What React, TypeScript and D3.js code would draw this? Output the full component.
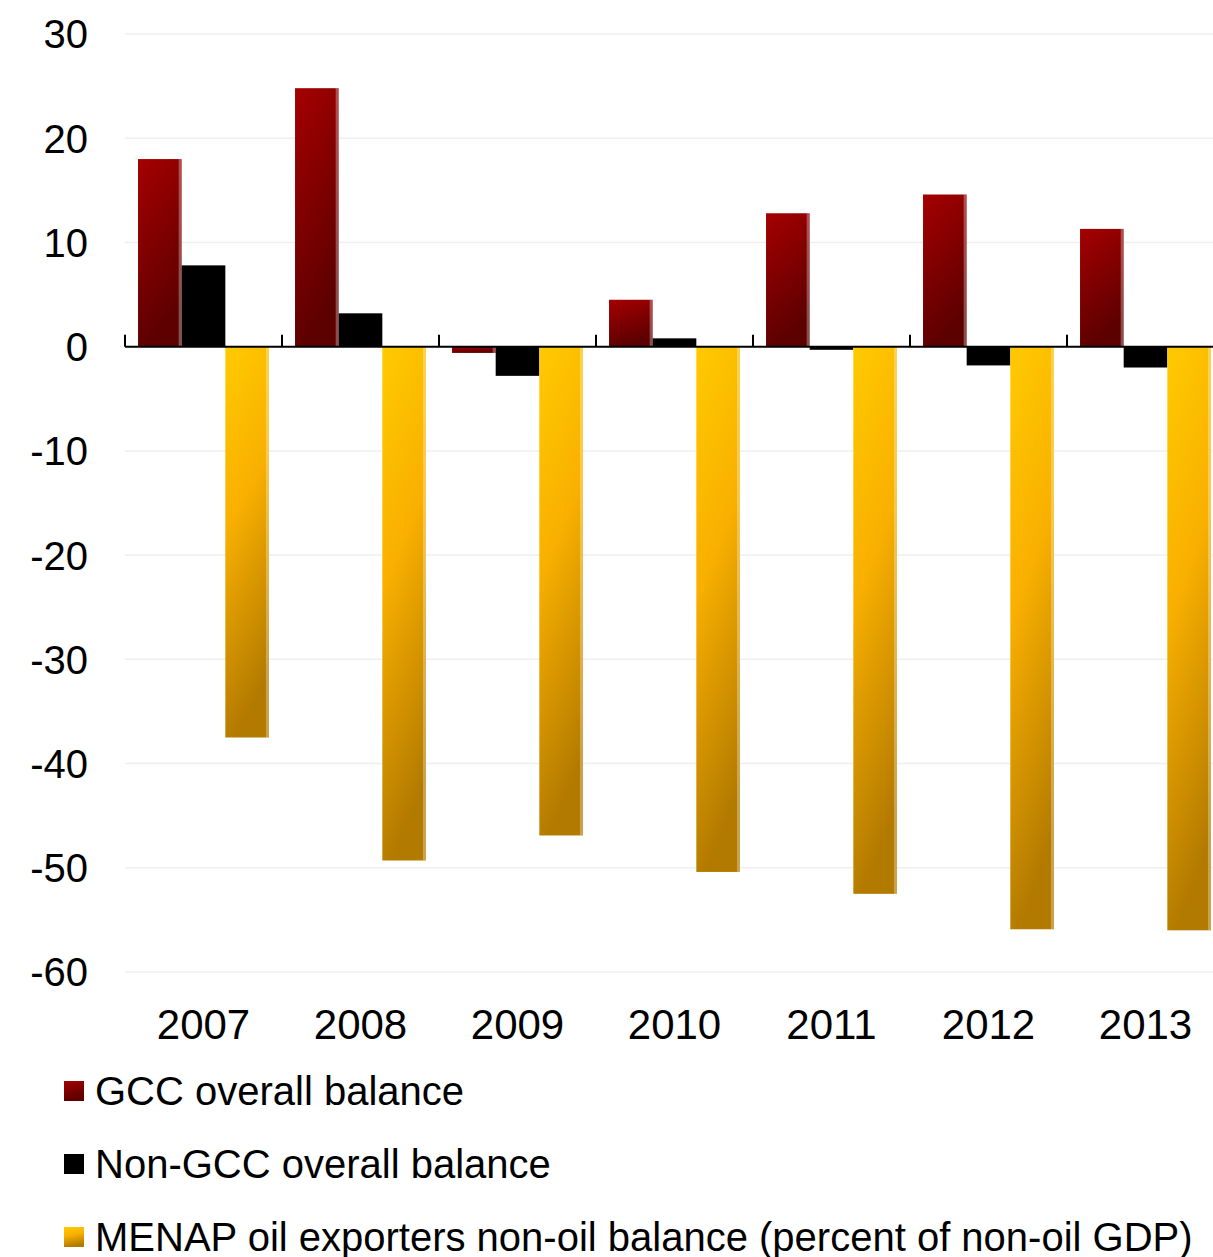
import * as d3 from "d3";
import React, { useEffect, useRef } from "react";

// Years on the x axis
const years = ["2007", "2008", "2009", "2010", "2011", "2012", "2013"];

// Series values (percent)
const gccBalance = [18.0, 24.8, -0.6, 4.5, 12.8, 14.6, 11.3];
const nonGccBalance = [7.8, 3.2, -2.8, 0.8, -0.3, -1.8, -2.0];
const menapNonOil = [-37.5, -49.3, -46.9, -50.4, -52.5, -55.9, -56.0];

const seriesNames = [
  "GCC overall balance",
  "Non-GCC overall balance",
  "MENAP oil exporters non-oil balance (percent of non-oil GDP)",
];

const yTicks = [30, 20, 10, 0, -10, -20, -30, -40, -50, -60];

const App: React.FC = () => {
  const chartRef = useRef<HTMLDivElement>(null);

  useEffect(() => {
    if (!chartRef.current) return;
    document.body.style.margin = "0";
    d3.select(chartRef.current).selectAll("*").remove();

    const width = 1213,
      height = 1257;
    const font = "'Liberation Sans', Arial, sans-serif";

    const svg = d3
      .select(chartRef.current)
      .append("svg")
      .attr("width", width)
      .attr("height", height)
      .style("display", "block")
      .style("font-family", font);

    // gradients
    const defs = svg.append("defs");
    const gRed = defs
      .append("linearGradient")
      .attr("id", "gradRed")
      .attr("x1", "0")
      .attr("y1", "0")
      .attr("x2", "0.3")
      .attr("y2", "1");
    gRed.append("stop").attr("offset", "0%").attr("stop-color", "#a50000");
    gRed.append("stop").attr("offset", "100%").attr("stop-color", "#5c0000");

    const gGold = defs
      .append("linearGradient")
      .attr("id", "gradGold")
      .attr("x1", "0")
      .attr("y1", "0")
      .attr("x2", "0.2")
      .attr("y2", "1");
    gGold.append("stop").attr("offset", "0%").attr("stop-color", "#ffca00");
    gGold.append("stop").attr("offset", "45%").attr("stop-color", "#f9b000");
    gGold.append("stop").attr("offset", "100%").attr("stop-color", "#b37a00");

    const fills = ["url(#gradRed)", "#000000", "url(#gradGold)"];
    const values = [gccBalance, nonGccBalance, menapNonOil];

    const xScale = d3
      .scaleBand()
      .domain(years)
      .range([125, 1224])
      .paddingInner(0.166)
      .paddingOuter(0.083);

    const xSub = d3
      .scaleBand()
      .domain(["0", "1", "2"])
      .range([0, xScale.bandwidth()])
      .padding(0);

    const yScale = d3.scaleLinear().domain([-60, 30]).range([972, 34]);

    // grid lines
    svg
      .append("g")
      .selectAll("line")
      .data(yTicks.filter((t) => t !== 0))
      .enter()
      .append("line")
      .attr("x1", 125)
      .attr("x2", width)
      .attr("y1", (d) => yScale(d))
      .attr("y2", (d) => yScale(d))
      .attr("stroke", "#efefef")
      .attr("stroke-width", 1.5);

    // y tick labels
    svg
      .append("g")
      .selectAll("text")
      .data(yTicks)
      .enter()
      .append("text")
      .attr("x", 88)
      .attr("y", (d) => yScale(d))
      .attr("dy", "0.36em")
      .attr("text-anchor", "end")
      .style("font-size", "40px")
      .style("fill", "#000")
      .text((d) => d);

    // bars
    years.forEach((yr, i) => {
      values.forEach((series, s) => {
        const v = series[i];
        const x = (xScale(yr) as number) + (xSub(String(s)) as number);
        const w = xSub.bandwidth();
        const y0 = yScale(0);
        const y1 = yScale(v);
        svg
          .append("rect")
          .attr("x", x)
          .attr("y", Math.min(y0, y1))
          .attr("width", w)
          .attr("height", Math.abs(y1 - y0))
          .attr("fill", fills[s]);
        if (s !== 1) {
          // light right edge
          svg
            .append("rect")
            .attr("x", x + w - 3)
            .attr("y", Math.min(y0, y1))
            .attr("width", 3)
            .attr("height", Math.abs(y1 - y0))
            .attr("fill", "#ffffff")
            .attr("opacity", 0.3);
        }
      });
    });

    // zero axis line + ticks
    const step = xScale.step();
    const inner = step * xScale.paddingInner();
    svg
      .append("line")
      .attr("x1", 125)
      .attr("x2", width)
      .attr("y1", yScale(0))
      .attr("y2", yScale(0))
      .attr("stroke", "#000")
      .attr("stroke-width", 2);
    svg
      .append("g")
      .selectAll("line")
      .data(years)
      .enter()
      .append("line")
      .attr("x1", (d) => (xScale(d) as number) - inner / 2)
      .attr("x2", (d) => (xScale(d) as number) - inner / 2)
      .attr("y1", yScale(0))
      .attr("y2", yScale(0) - 12)
      .attr("stroke", "#000")
      .attr("stroke-width", 2);

    // x labels
    svg
      .append("g")
      .selectAll("text")
      .data(years)
      .enter()
      .append("text")
      .attr("x", (d) => (xScale(d) as number) + xScale.bandwidth() / 2)
      .attr("y", 1039)
      .attr("text-anchor", "middle")
      .style("font-size", "42px")
      .style("fill", "#000")
      .text((d) => d);

    // legend
    const legend = svg
      .append("g")
      .selectAll("g")
      .data(seriesNames)
      .enter()
      .append("g")
      .attr("transform", (_d, i) => `translate(0,${1105 + i * 73})`);
    legend
      .append("rect")
      .attr("x", 64)
      .attr("y", -24)
      .attr("width", 20)
      .attr("height", 20)
      .attr("fill", (_d, i) => fills[i]);
    legend
      .append("text")
      .attr("x", 95)
      .attr("y", 0)
      .style("font-size", "40px")
      .style("fill", "#000")
      .text((d) => d);
  }, []);

  return <div ref={chartRef}></div>;
};

export default App;
